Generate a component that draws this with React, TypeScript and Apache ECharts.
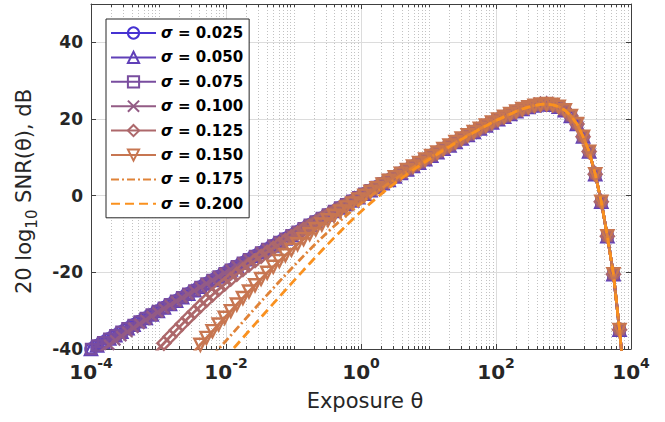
import React, { useEffect, useRef } from "react";
import * as echarts from "echarts";

// log10 of the exposure θ at each sample
const log10Exposure = [
  -4, -3.91, -3.82, -3.73, -3.64, -3.55, -3.46, -3.37, -3.28, -3.19,
  -3.1, -3.01, -2.92, -2.83, -2.74, -2.65, -2.56, -2.47, -2.38, -2.29,
  -2.2, -2.11, -2.02, -1.93, -1.84, -1.75, -1.66, -1.57, -1.48, -1.39,
  -1.3, -1.21, -1.12, -1.03, -0.94, -0.85, -0.76, -0.67, -0.58, -0.49,
  -0.4, -0.31, -0.22, -0.13, -0.04, 0.05, 0.14, 0.23, 0.32, 0.41,
  0.5, 0.59, 0.68, 0.77, 0.86, 0.95, 1.04, 1.13, 1.22, 1.31,
  1.4, 1.49, 1.58, 1.67, 1.76, 1.85, 1.94, 2.03, 2.12, 2.21,
  2.3, 2.39, 2.48, 2.57, 2.66, 2.75, 2.84, 2.93, 3.02, 3.11,
  3.2, 3.29, 3.38, 3.47, 3.56, 3.65, 3.74, 3.83, 3.92, 4.01,
];

const sigmaNames = [
  "σ = 0.025", "σ = 0.050", "σ = 0.075", "σ = 0.100",
  "σ = 0.125", "σ = 0.150", "σ = 0.175", "σ = 0.200",
];

// SNR in dB for the low-noise curves (σ = 0.025, 0.050, 0.075)
const snrBase = [
  -40, -39.1, -38.2, -37.3, -36.4, -35.5, -34.6, -33.7, -32.8, -31.9,
  -31, -30.1, -29.2, -28.3, -27.4, -26.5, -25.6, -24.7, -23.8, -22.9,
  -22, -21.1, -20.2, -19.3, -18.4, -17.5, -16.6, -15.7, -14.8, -13.9,
  -13, -12.1, -11.2, -10.3, -9.4, -8.5, -7.6, -6.7, -5.8, -4.9,
  -4, -3.1, -2.2, -1.3, -0.4, 0.5, 1.4, 2.3, 3.2, 4.1,
  5, 5.9, 6.8, 7.7, 8.6, 9.5, 10.4, 11.3, 12.2, 13.1,
  14, 14.9, 15.8, 16.6, 17.5, 18.3, 19.1, 19.9, 20.6, 21.3,
  22, 22.6, 23.1, 23.5, 23.8, 23.9, 23.7, 23.2, 22.3, 20.8,
  18.7, 15.4, 11.5, 5.6, -1.6, -10.6, -20.5, -35, -52, -72,
];

// low-exposure parts that differ from snrBase (null = below the plotted range)
const snrHead100 = [
  -42.6, -41.34, -40.1, -38.9, -37.74, -36.62, -35.53, -34.47, -33.44, -32.43,
  -31.43, -30.45, -29.49, -28.54, -27.59, -26.66, -25.73, -24.8, -23.89, -22.97,
  -22.06,
];
const snrHead125 = [
  null, null, null, null, null, null, null, null, null,
  -43.64, -41.91, -40.19, -38.49, -36.8, -35.14, -33.51, -31.9, -30.33, -28.8,
  -27.3, -25.85, -24.44, -23.08, -21.77, -20.5, -19.28, -18.1, -16.95, -15.84,
  -14.77, -13.72, -12.69, -11.69, -10.7, -9.73, -8.77, -7.82, -6.88, -5.95,
  -5.02, -4.1, -3.18, -2.26, -1.35, -0.44, 0.47, 1.37, 2.28, 3.18,
];
const snrHead150 = [
  null, null, null, null, null, null, null, null, null, null,
  null, null, null, null, null, null,
  -42.43, -40.65, -38.88, -37.11,
  -35.35, -33.59, -31.85, -30.11, -28.4, -26.7, -25.01, -23.36, -21.72, -20.12,
  -18.56, -17.03, -15.53, -14.09, -12.69, -11.33, -10.03, -8.76, -7.54, -6.37,
  -5.23, -4.12, -3.05, -2.0, -0.98, 0.02, 1.01, 1.98, 2.94, 3.89,
  4.83, 5.76, 6.68, 7.61, 8.52, 9.44, 10.35, 11.26,
];
const snrHead175 = [
  null, null, null, null, null, null, null, null, null, null,
  null, null, null, null, null, null, null, null, null, null,
  -41.83, -40.04, -38.25, -36.47, -34.68, -32.91, -31.14, -29.37, -27.61, -25.87,
  -24.13, -22.41, -20.7, -19.01, -17.34, -15.7, -14.09, -12.5, -10.96, -9.45,
  -7.99, -6.57, -5.2, -3.87, -2.6, -1.36, -0.17, 0.99, 2.1, 3.19,
  4.24, 5.28, 6.29, 7.28, 8.25, 9.22, 10.17, 11.11, 12.05, 12.97,
  13.9, 14.82, 15.73, 16.54, 17.46,
];
const snrHead200 = [
  null, null, null, null, null, null, null, null, null, null,
  null, null, null, null, null, null, null, null, null, null,
  null, null,
  -42.47, -40.67, -38.88, -37.09, -35.3, -33.51, -31.73, -29.95,
  -28.17, -26.41, -24.64, -22.89, -21.14, -19.41, -17.69, -15.99, -14.3, -12.64,
  -11.01, -9.4, -7.83, -6.29, -4.8, -3.35, -1.94, -0.58, 0.73, 2.0,
  3.22, 4.4, 5.55, 6.66, 7.73, 8.78, 9.81, 10.81, 11.8, 12.77,
  13.73, 14.68, 15.62, 16.45, 17.38, 18.2, 19.02, 19.84, 20.55, 21.26,
];

const xTickExponents = [-4, -2, 0, 2, 4];
const yTickValues = [-40, -20, 0, 20, 40];

const FONT = "'DejaVu Sans', 'Liberation Sans', sans-serif";
const AXIS_COLOR = "#404040";
const TEXT_COLOR = "#262626";
const seriesColors = [
  "#4632d2", "#6040b8", "#794d9f", "#935b85",
  "#ad686b", "#c77651", "#e08338", "#fa911e",
];

function withTail(head: (number | null)[]) {
  return head.concat(snrBase.slice(head.length));
}

function buildOption(): any {
  const curves = [
    snrBase, snrBase, snrBase,
    withTail(snrHead100), withTail(snrHead125), withTail(snrHead150),
    withTail(snrHead175), withTail(snrHead200),
  ];
  const symbols = [
    "circle", "triangle", "rect", "path://M0,0L10,10M10,0L0,10",
    "diamond", "triangle", "none", "none",
  ];
  const symbolRot = [0, 0, 0, 0, 0, 180, 0, 0];
  const symbolSizes = [11, 12, 10, 10, 13, 12, 0, 0];
  const lineTypes: any[] = ["solid", "solid", "solid", "solid", "solid", "solid", [8, 3, 2, 3], [9, 5]];

  const lineSeries = curves.map((vals, i) => {
    const hasMarker = symbols[i] !== "none";
    return {
      type: "line",
      name: sigmaNames[i],
      data: log10Exposure
        .map((e, k) => [e, vals[k]])
        .filter((p) => p[1] !== null && p[1] !== undefined),
      symbol: symbols[i],
      symbolSize: symbolSizes[i],
      symbolRotate: symbolRot[i],
      showSymbol: hasMarker,
      showAllSymbol: true,
      lineStyle: { color: seriesColors[i], width: 2.8, type: lineTypes[i] },
      itemStyle: hasMarker
        ? { color: "rgba(255,255,255,0)", borderColor: seriesColors[i], borderWidth: 2.4 }
        : { color: "rgba(255,255,255,0)", borderColor: "rgba(255,255,255,0)", borderWidth: 0 },
      emphasis: { disabled: true },
      clip: true,
      z: 3 + i,
    };
  });

  const minorPositions: number[][] = [];
  for (let d = -4; d < 4; d++) {
    for (let m = 1; m <= 9; m++) {
      if (m === 1 && d % 2 === 0) continue;
      minorPositions.push([d + Math.log10(m), 0]);
    }
  }

  const minorSeries = {
    type: "custom",
    name: "minor",
    silent: true,
    z: 1,
    data: minorPositions,
    renderItem: (params: any, api: any) => {
      const x = api.value(0);
      const top = api.coord([x, 50]);
      const bot = api.coord([x, -40]);
      const px = Math.round(top[0]) + 0.5;
      return {
        type: "group",
        children: [
          { type: "line", shape: { x1: px, y1: top[1], x2: px, y2: bot[1] }, style: { stroke: "#c2c2c2", lineWidth: 1, lineDash: [1, 2] } },
          { type: "line", shape: { x1: px, y1: bot[1], x2: px, y2: bot[1] - 3 }, style: { stroke: AXIS_COLOR, lineWidth: 1 } },
          { type: "line", shape: { x1: px, y1: top[1], x2: px, y2: top[1] + 3 }, style: { stroke: AXIS_COLOR, lineWidth: 1 } },
        ],
      };
    },
  };

  const axisLine = { show: true, onZero: false, lineStyle: { color: AXIS_COLOR, width: 1 } };
  const axisTick = { show: true, inside: true, length: 5, lineStyle: { color: AXIS_COLOR, width: 1 } };

  return {
    animation: false,
    backgroundColor: "#ffffff",
    textStyle: { fontFamily: FONT },
    grid: { left: 91, top: 4, width: 540, height: 345, outerBoundsMode: "none", containLabel: false },
    legend: {
      show: true,
      data: sigmaNames,
      orient: "vertical",
      left: 106,
      top: 19,
      padding: [6, 6, 6, 4],
      itemWidth: 45,
      itemHeight: 14,
      itemGap: 8.4,
      backgroundColor: "#ffffff",
      borderColor: "#262626",
      borderWidth: 1,
      borderRadius: 0,
      selectedMode: false,
      formatter: (name: string) => "{s|σ}" + name.slice(1),
      textStyle: {
        fontFamily: FONT, fontWeight: "bold", fontSize: 15, color: "#000", lineHeight: 16,
        rich: { s: { fontFamily: FONT, fontStyle: "italic", fontWeight: "bold", fontSize: 15, color: "#000", lineHeight: 16 } },
      },
    },
    xAxis: [
      {
        type: "value", min: xTickExponents[0], max: xTickExponents[xTickExponents.length - 1], interval: 2,
        position: "bottom",
        axisLine, axisTick,
        axisLabel: {
          margin: 7,
          formatter: (v: number) => "{b|10}{e|" + v + "}",
          rich: {
            b: { fontFamily: FONT, fontWeight: "bold", fontSize: 20, color: TEXT_COLOR, lineHeight: 26, verticalAlign: "bottom" },
            e: { fontFamily: FONT, fontWeight: "bold", fontSize: 14, color: TEXT_COLOR, lineHeight: 15, verticalAlign: "top" },
          },
        },
        splitLine: { show: true, lineStyle: { color: "#dcdcdc", width: 1 } },
        name: "Exposure θ", nameLocation: "middle", nameGap: 41,
        nameTextStyle: { fontFamily: FONT, fontSize: 21, color: TEXT_COLOR, padding: [0, 0, 0, 8] },
      },
      {
        type: "value", min: -4, max: 4, interval: 2, position: "top",
        axisLine, axisTick, axisLabel: { show: false }, splitLine: { show: false },
      },
    ],
    yAxis: [
      {
        type: "value", min: yTickValues[0], max: 50, interval: 20, position: "left",
        axisLine, axisTick,
        axisLabel: { margin: 8, showMaxLabel: false, fontFamily: FONT, fontWeight: "bold", fontSize: 17, color: TEXT_COLOR },
        splitLine: { show: true, lineStyle: { color: "#dcdcdc", width: 1 } },
        name: "20 log{s|10} SNR(θ), dB", nameLocation: "middle", nameGap: 52,
        nameTextStyle: {
          fontFamily: FONT, fontSize: 21, color: TEXT_COLOR, lineHeight: 30,
          padding: [0, 30, 0, 0],
          rich: { s: { fontFamily: FONT, fontSize: 15, color: TEXT_COLOR, lineHeight: 16, verticalAlign: "bottom" } },
        },
      },
      {
        type: "value", min: -40, max: 50, interval: 20, position: "right",
        axisLine, axisTick, axisLabel: { show: false }, splitLine: { show: false },
      },
    ],
    series: [minorSeries, ...lineSeries],
  };
}

export default function App() {
  const ref = useRef<HTMLDivElement>(null);
  useEffect(() => {
    if (!ref.current) return;
    const chart = echarts.init(ref.current, undefined, { renderer: "svg" });
    chart.setOption(buildOption());
    return () => chart.dispose();
  }, []);
  return (
    <div
      ref={ref}
      style={{ position: "absolute", left: 0, top: 0, width: 665, height: 422, background: "#fff" }}
    />
  );
}
